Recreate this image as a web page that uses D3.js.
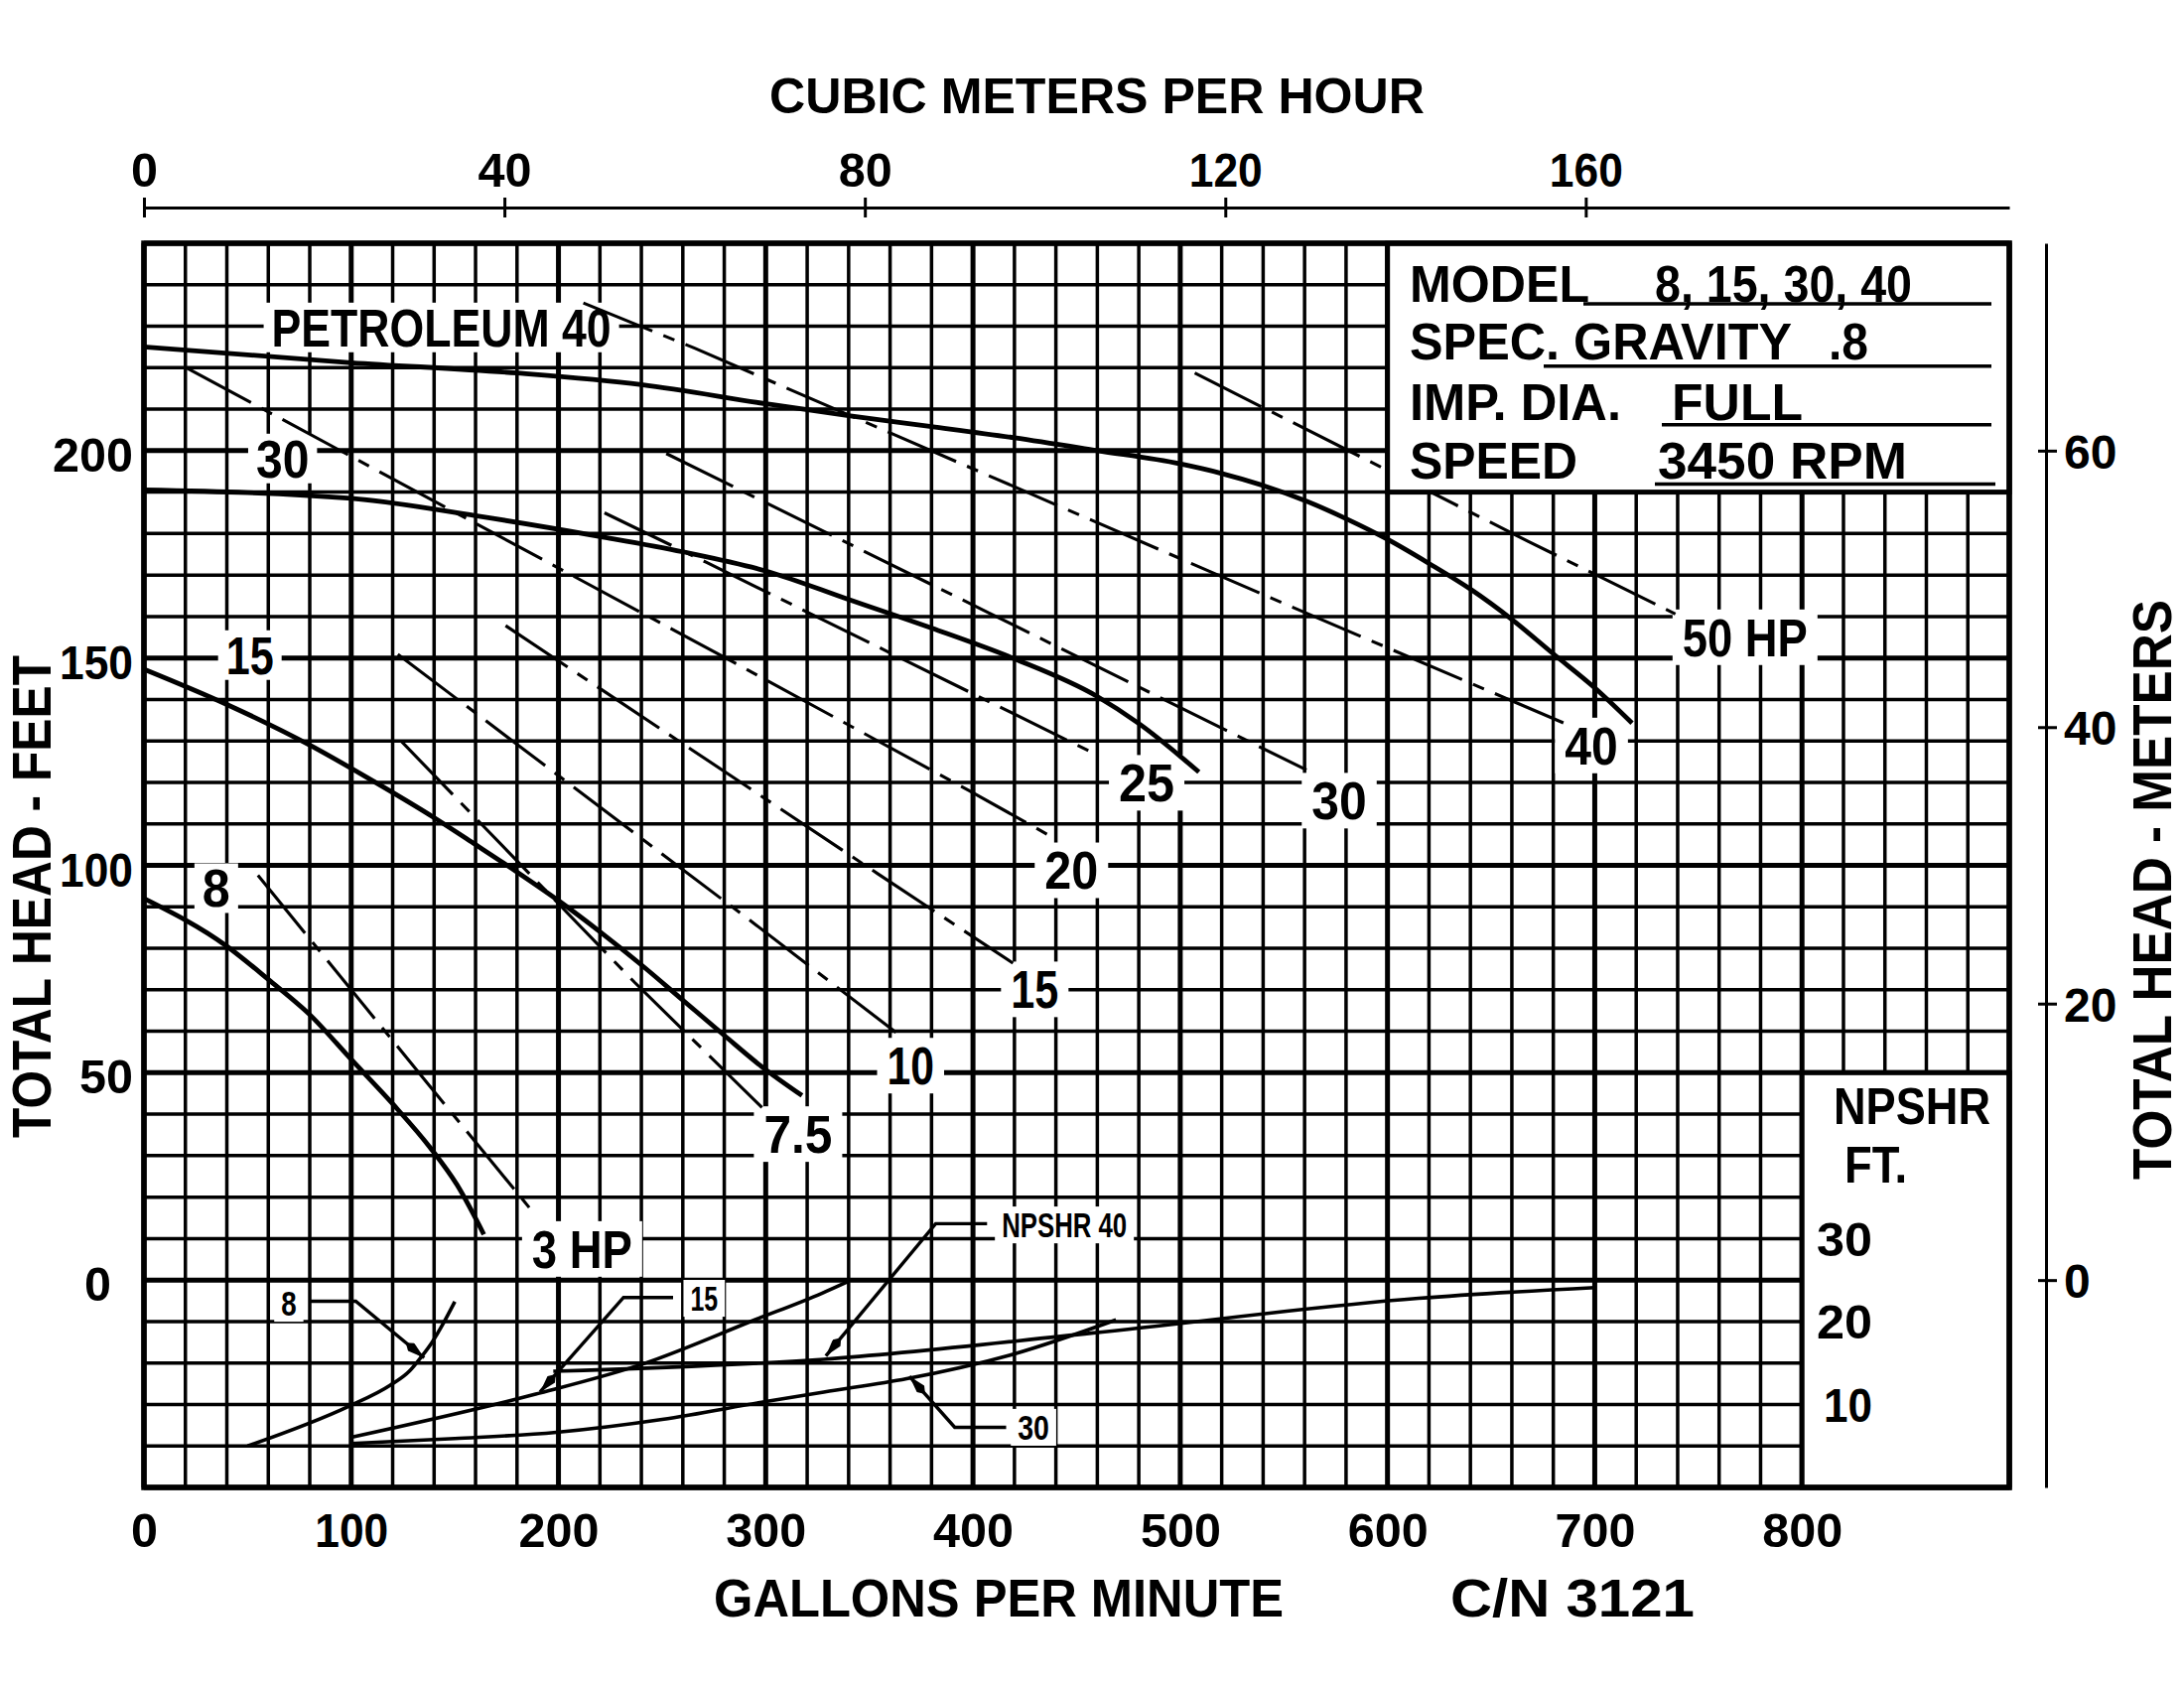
<!DOCTYPE html>
<html>
<head>
<meta charset="utf-8">
<script src="https://cdn.jsdelivr.net/npm/d3@7"></script>
<style>
  body { margin: 0; background: #fff; }
  svg text { font-family: "Liberation Sans", Arial, sans-serif; font-weight: bold; fill: #000; }
</style>
</head>
<body>
<div id="chart"></div>
<script>
// head curves, [gpm, total head ft]
const curve40 = [[0,225],[100,221.2],[180,218.7],[240,215.9],[300,211.3],[340,208.4],[380,205.8],[420,203.1],[460,200],[500,196.8],[520,194.5],[540,191.6],[560,188],[580,183.6],[600,178.6],[620,172.8],[640,166.6],[660,159.3],[680,151],[700,142.8],[718,134.3]];
const curve30 = [[0,190.5],[100,188.5],[160,184.3],[220,179.3],[260,175.6],[300,171],[340,164.1],[380,157.2],[420,149.8],[460,140.7],[480,134.2],[509,122.5]];
const curve15 = [[0,147.3],[40,138.8],[80,129],[110,120.5],[140,111.5],[160,105],[180,98.4],[200,91.5],[220,84],[240,76],[260,67.5],[280,59],[298,51.5],[317.5,44.5]];
const curve8 = [[0,92],[40,80.5],[60,72.5],[80,64],[100,53.2],[120,42.5],[138,32],[151,23],[164,11]];
const headNames = ["PETROLEUM 40", "30", "15", "8"];

// horsepower lines, [gpm, ft]
const hpNames = ["3 HP", "7.5", "10", "15", "20", "25", "30", "40", "50 HP"];
const hp3 = [[55,97.6],[146,41.8],[188,16.2]];
const hp7_5 = [[124,130],[236.7,71.8],[298.2,41.6]];
const hp10 = [[122.5,150.9],[295.4,85.6],[366,58.5]];
const hp15 = [[174.5,157.8],[354,98],[419.3,76.4]];
const hp20 = [[20,220.1],[284,149.1],[397.8,118.1],[440.4,106.2]];
const hp25 = [[222.2,185],[271.2,173.1],[459.2,126.8]];
const hp30 = [[252,199.3],[408,160.8],[560.9,123]];
const hp40 = [[212,235.6],[265.7,224.7],[553.4,162.4],[686.6,134]];
const hp50 = [[507,218.7],[668,178.1],[738.9,160.6]];

// NPSHR curves, [gpm, NPSHR ft]
const npshrNames = ["8", "15", "30", "NPSHR 40"];
const npshr8 = [[50,5.0],[98.5,9.75],[118.7,12.3],[128,14.0],[133.4,15.6],[138.9,17.45],[144.4,19.76],[150,22.4]];
const npshr15 = [[100,6.05],[189,11.25],[241.5,14.95],[294.7,20.2],[327,23.4],[339.5,24.8]];
const npshr30 = [[100,5.3],[150,5.9],[199,6.65],[250,8.2],[300,10.35],[328,11.5],[368,13.1],[420,16.1],[469,20.2]];
const npshr40 = [[197.5,14.0],[328,15.45],[457,18.6],[615,22.8],[700,24.1]];

// tick labels
const gpmTicks = [0,100,200,300,400,500,600,700,800];
const feetTicks = [0,50,100,150,200];
const cmhTicks = [0,40,80,120,160];
const meterTicks = [0,20,40,60];
const npshrTicks = [10,20,30];

const infoRows = [["MODEL", "8, 15, 30, 40"], ["SPEC. GRAVITY", ".8"], ["IMP. DIA.", "FULL"], ["SPEED", "3450 RPM"]];

const W = 2200, H = 1700;
const svg = d3.select("#chart").append("svg").attr("width", W).attr("height", H);
svg.append("rect").attr("width", W).attr("height", H).attr("fill", "#fff");

const x = d3.scaleLinear().domain([0, 900]).range([145, 2024]);
const y = d3.scaleLinear().domain([-50, 250]).range([1498, 245]);
const yN = d3.scaleLinear().domain([0, 50]).range([y(-50), y(50)]);
const cmh = d3.scaleLinear().domain([0, 207]).range([x(0), x(900)]);
const yM = d3.scaleLinear().domain([-15, 75]).range([1498, 245]);

const gGrid = svg.append("g");
const gBoxes = svg.append("g");
const gLines = svg.append("g");
const gPanels = svg.append("g");
const gText = svg.append("g");

// grid
gGrid.selectAll(".vx").data(d3.range(0, 901, 20)).enter().append("line")
  .attr("x1", d => x(d)).attr("x2", d => x(d))
  .attr("y1", y(250)).attr("y2", y(-50))
  .attr("stroke", "#000").attr("stroke-width", d => d % 100 === 0 ? 5 : 3.5);
gGrid.selectAll(".hy").data(d3.range(-50, 251, 10)).enter().append("line")
  .attr("y1", d => y(d)).attr("y2", d => y(d))
  .attr("x1", x(0)).attr("x2", x(900))
  .attr("stroke", "#000").attr("stroke-width", d => d % 50 === 0 ? 5 : 3.5);

function putText(layer, str, px, py, size, width, anchor) {
  const t = layer.append("text").attr("x", px).attr("y", py)
    .attr("font-size", size).attr("text-anchor", anchor || "start").text(str);
  if (width) t.attr("textLength", width).attr("lengthAdjust", "spacingAndGlyphs");
  return t;
}

function boxedLabel(str, at, size, width, padX, padY) {
  const cx = x(at[0]), cy = y(at[1]), cap = size * 0.716;
  gBoxes.append("rect")
    .attr("x", cx - width / 2 - padX).attr("y", cy - cap / 2 - padY)
    .attr("width", width + 2 * padX).attr("height", cap + 2 * padY)
    .attr("fill", "#fff");
  putText(gText, str, cx, cy + cap / 2, size, width, "middle");
}

// digit "1" is narrow in this lettering
const numWidth = d => { const s = String(d); return s.length * 27 - (s.match(/1/g) || []).length * 7; };

const line = d3.line().x(d => x(d[0])).y(d => y(d[1]));
const smooth = d3.line().x(d => x(d[0])).y(d => y(d[1])).curve(d3.curveMonotoneX);
const smoothN = d3.line().x(d => x(d[0])).y(d => yN(d[1])).curve(d3.curveMonotoneX);

// horsepower lines
const hpLines = [hp3, hp7_5, hp10, hp15, hp20, hp25, hp30, hp40, hp50];
gLines.selectAll(".hp").data(hpLines).enter().append("path")
  .attr("d", line).attr("fill", "none").attr("stroke", "#000")
  .attr("stroke-width", 3.1).attr("stroke-dasharray", "75,12,12,12");

// head curves
const headCurves = [curve40, curve30, curve15, curve8];
gLines.selectAll(".head").data(headCurves).enter().append("path")
  .attr("d", smooth).attr("fill", "none").attr("stroke", "#000")
  .attr("stroke-width", 4.8).attr("stroke-linecap", "butt");

// NPSHR curves
const npshrCurves = [npshr8, npshr15, npshr30, npshr40];
gLines.selectAll(".npshr").data(npshrCurves).enter().append("path")
  .attr("d", smoothN).attr("fill", "none").attr("stroke", "#000")
  .attr("stroke-width", 3.6);

// leaders with arrowheads
svg.append("defs").append("marker").attr("id", "dart")
  .attr("viewBox", "0 -5 24 10").attr("refX", 24).attr("refY", 0)
  .attr("markerWidth", 24).attr("markerHeight", 10)
  .attr("markerUnits", "userSpaceOnUse").attr("orient", "auto")
  .append("path").attr("d", "M0,0 L7,-5 L24,0 L7,5 Z").attr("fill", "#000");
const leaders = [
  [[80,-5.1],[102.2,-5.1],[135.2,-18.75]],
  [[255.3,-4.2],[231.4,-4.2],[191.1,-27]],
  [[416,-35.5],[391.2,-35.5],[369.3,-23.2]],
  [[406.8,13.6],[382,13.6],[329,-18.3]]
];
gLines.selectAll(".leader").data(leaders).enter().append("path")
  .attr("d", line).attr("fill", "none").attr("stroke", "#000")
  .attr("stroke-width", 3.4).attr("marker-end", "url(#dart)");

// labels
const headLabelAt = [[143.5,229.7],[66.9,198.1],[51.1,150.7],[34.9,94.5]];
const headLabelW = [342, 53.4, 48, 28];
headNames.forEach((n, i) => boxedLabel(n, headLabelAt[i], 53, headLabelW[i], 8, 6));

const hpLabelAt = [[211.4,7.5],[315.6,35.2],[369.9,51.7],[429.8,70.1],[447.5,98.8],[483.8,119.9],[576.7,115.6],[698.4,128.9],[772.5,155]];
const hpLabelW = [101, 69, 47.5, 48, 54, 56, 55.5, 53.5, 126];
hpNames.forEach((n, i) => boxedLabel(n, hpLabelAt[i], 53, hpLabelW[i], 10, 9));

const npshrLabelAt = [[69.9,-5.6],[270.3,-4.4],[429.2,-35.5],[444.1,13.3]];
const npshrLabelW = [15.4, 27.7, 31.7, 126];
npshrNames.forEach((n, i) => boxedLabel(n, npshrLabelAt[i], 35, npshrLabelW[i], 7, 6));

// info panel, top right
gPanels.append("rect")
  .attr("x", x(600)).attr("y", y(250)).attr("width", x(900) - x(600)).attr("height", y(190) - y(250))
  .attr("fill", "#fff").attr("stroke", "#000").attr("stroke-width", 5);
const infoBase = [303.6, 361.6, 423, 482];
const infoLabelW = [181, 385, 213, 169];
const infoValX = [1667, 1842, 1684, 1670];
const infoValW = [259, 40, 132, 251];
const ruleX = [[1595, 2006], [1555, 2006], [1674, 2006], [1667, 2010]];
const ruleY = [306, 368.7, 427.7, 487.5];
infoRows.forEach((r, i) => {
  putText(gText, r[0], 1420, infoBase[i], 52, infoLabelW[i]);
  putText(gText, r[1], infoValX[i], infoBase[i], 52, infoValW[i]);
  gText.append("line").attr("x1", ruleX[i][0]).attr("x2", ruleX[i][1])
    .attr("y1", ruleY[i]).attr("y2", ruleY[i]).attr("stroke", "#000").attr("stroke-width", 3.4);
});

// NPSHR scale panel, bottom right
gPanels.append("rect")
  .attr("x", x(800)).attr("y", y(50)).attr("width", x(900) - x(800)).attr("height", y(-50) - y(50))
  .attr("fill", "#fff").attr("stroke", "#000").attr("stroke-width", 5);
putText(gText, "NPSHR", 1847, 1132, 52, 158);
putText(gText, "FT.", 1858, 1191, 52, 63);
npshrTicks.forEach(v => putText(gText, v, 1886, yN(v) + 17.5, 49, numWidth(v) + 2, "end"));

// plot border
svg.append("rect").attr("x", x(0)).attr("y", y(250))
  .attr("width", x(900) - x(0)).attr("height", y(-50) - y(250))
  .attr("fill", "none").attr("stroke", "#000").attr("stroke-width", 5.5);

// top axis, cubic meters per hour
const axTop = svg.append("g").attr("transform", "translate(0,209)")
  .call(d3.axisTop(cmh).tickValues(cmhTicks).tickSize(10).tickSizeOuter(0).tickPadding(11.5));
axTop.attr("font-size", 48).attr("font-family", null);
axTop.selectAll(".tick line").attr("y1", 10).attr("stroke-width", 3);
axTop.select(".domain").attr("stroke-width", 3);
axTop.selectAll(".tick text").attr("textLength", numWidth).attr("lengthAdjust", "spacingAndGlyphs");

// right axis, meters
const axRight = svg.append("g").attr("transform", "translate(2061,0)")
  .call(d3.axisRight(yM).tickValues(meterTicks).tickSize(11).tickSizeOuter(0).tickPadding(7));
axRight.attr("font-size", 48).attr("font-family", null);
axRight.selectAll(".tick line").attr("x1", -8).attr("stroke-width", 3);
axRight.select(".domain").attr("stroke-width", 3);
axRight.selectAll(".tick text").attr("dy", "0.36em");

// left axis, feet
const axLeft = svg.append("g").attr("transform", `translate(${x(0)},0)`)
  .call(d3.axisLeft(y).tickValues(feetTicks).tickSize(0).tickPadding(11));
axLeft.attr("font-size", 49).attr("font-family", null);
axLeft.select(".domain").remove();
axLeft.selectAll(".tick text").attr("dy", "0.42em")
  .attr("textLength", numWidth).attr("lengthAdjust", "spacingAndGlyphs")
  .attr("x", d => d === 0 ? -33 : -11);

// bottom axis, gpm
const axBottom = svg.append("g").attr("transform", `translate(0,${y(-50)})`)
  .call(d3.axisBottom(x).tickValues(gpmTicks).tickSize(0));
axBottom.attr("font-size", 49).attr("font-family", null);
axBottom.select(".domain").remove();
axBottom.selectAll(".tick text").attr("y", 60).attr("dy", null)
  .attr("textLength", numWidth).attr("lengthAdjust", "spacingAndGlyphs");

// titles
putText(svg, "CUBIC METERS PER HOUR", 1105, 114, 50, 660, "middle");
putText(svg, "GALLONS PER MINUTE", 1006, 1628, 53, 574, "middle");
putText(svg, "C/N 3121", 1584, 1628, 53, 246, "middle");
putText(svg, "TOTAL HEAD - FEET", 0, 0, 56, 486, "middle")
  .attr("transform", "translate(50.5,903) rotate(-90)");
putText(svg, "TOTAL HEAD - METERS", 0, 0, 56, 584, "middle")
  .attr("transform", "translate(2187,896) rotate(-90)");
</script>
</body>
</html>
